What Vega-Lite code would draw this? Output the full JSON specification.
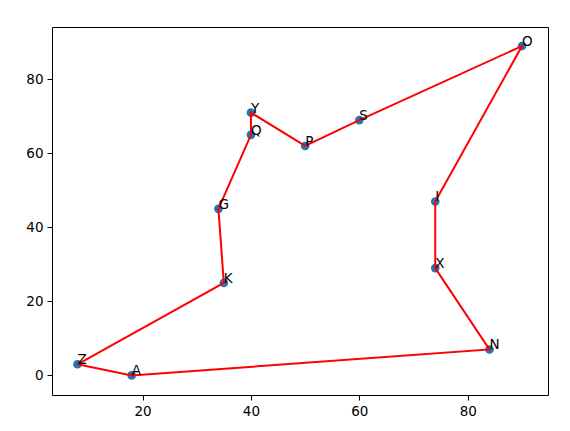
{
  "$schema": "https://vega.github.io/schema/vega-lite/v6.json",
  "autosize": {"type": "none"},
  "padding": {"left": 52, "top": 27, "right": 22, "bottom": 36},
  "width": 496,
  "height": 368,
  "background": "white",
  "config": {
    "view": {"stroke": "#000", "strokeWidth": 1},
    "axis": {
      "grid": false,
      "domain": false,
      "tickColor": "#000",
      "tickSize": 5,
      "tickWidth": 1,
      "labelColor": "#000",
      "labelFont": "DejaVu Sans",
      "labelFontSize": 13.5,
      "labelPadding": 4,
      "title": null
    }
  },
  "data": {
    "values": [
      {"i": 0, "city": "Z", "x": 8, "y": 3},
      {"i": 1, "city": "A", "x": 18, "y": 0},
      {"i": 2, "city": "N", "x": 84, "y": 7},
      {"i": 3, "city": "X", "x": 74, "y": 29},
      {"i": 4, "city": "I", "x": 74, "y": 47},
      {"i": 5, "city": "O", "x": 90, "y": 89},
      {"i": 6, "city": "S", "x": 60, "y": 69},
      {"i": 7, "city": "P", "x": 50, "y": 62},
      {"i": 8, "city": "Y", "x": 40, "y": 71},
      {"i": 9, "city": "Q", "x": 40, "y": 65},
      {"i": 10, "city": "G", "x": 34, "y": 45},
      {"i": 11, "city": "K", "x": 35, "y": 25},
      {"i": 12, "city": "Z", "x": 8, "y": 3}
    ]
  },
  "encoding": {
    "x": {"field": "x", "type": "quantitative", "scale": {"domain": [3.3, 94.8], "nice": false, "zero": false}, "axis": {"values": [20, 40, 60, 80]}},
    "y": {"field": "y", "type": "quantitative", "scale": {"domain": [-5.3, 94.15], "nice": false, "zero": false}, "axis": {"values": [0, 20, 40, 60, 80]}}
  },
  "layer": [
    {
      "transform": [{"filter": "datum.i < 12"}],
      "mark": {"type": "point", "filled": true, "size": 75, "color": "#1f77b4", "opacity": 1}
    },
    {
      "mark": {"type": "line", "color": "#ff0000", "strokeWidth": 2},
      "encoding": {"order": {"field": "i", "type": "quantitative"}}
    },
    {
      "transform": [{"filter": "datum.i < 12"}],
      "mark": {"type": "text", "align": "left", "baseline": "alphabetic", "font": "DejaVu Sans", "fontSize": 13.5, "color": "#000"},
      "encoding": {"text": {"field": "city", "type": "nominal"}}
    }
  ]
}
